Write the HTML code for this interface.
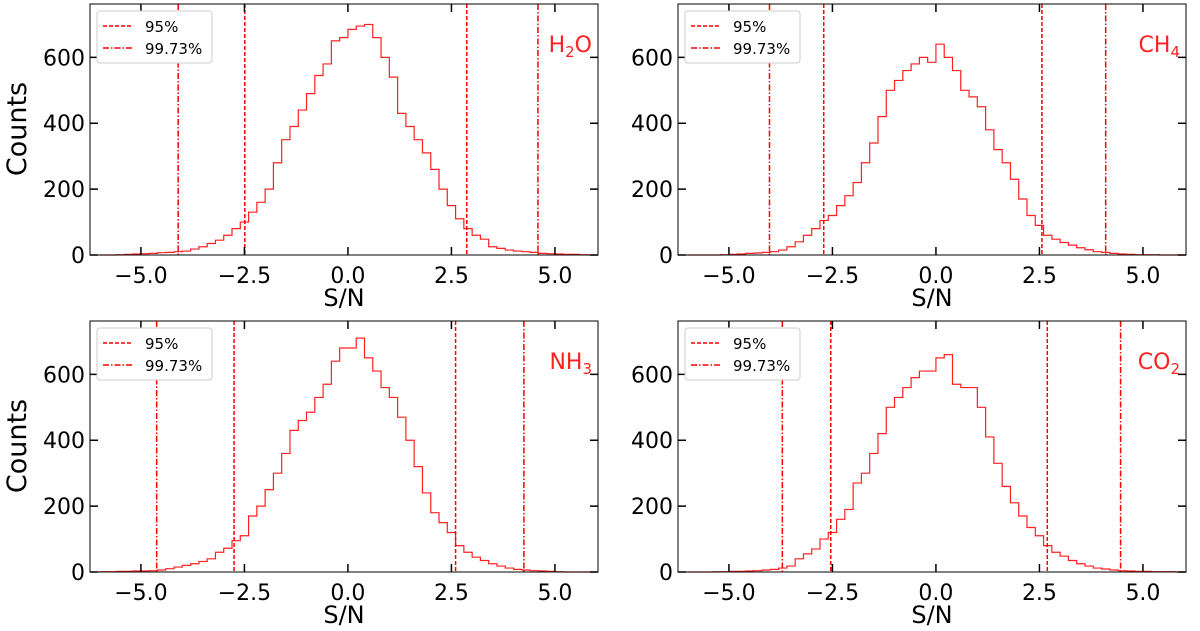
<!DOCTYPE html>
<html><head><meta charset="utf-8">
<style>
body{margin:0;background:#fff;}
svg{display:block;font-family:"DejaVu Sans","Liberation Sans",sans-serif;}
</style></head>
<body>
<svg id="chart" width="1200" height="631" xmlns="http://www.w3.org/2000/svg"></svg>
<script>
const binEdgeStart = -6.0;
const binWidth = 0.2;
const h2oCounts = [0,0,1,2,3,4,5,7,8,10, 12,18,25,35,45,60,80,100,130,160, 200,280,350,390,440,490,545,580,650,660, 685,695,700,660,600,540,430,390,350,310, 260,200,150,110,80,60,48,25,20,15, 12,10,8,5,4,3,2,2,1,0];
const ch4Counts = [0,0,0,0,1,2,3,5,6,8, 10,15,25,40,60,80,105,120,150,180, 220,280,340,420,500,530,560,580,600,585, 640,600,560,500,480,450,380,320,280,230, 170,120,90,60,48,38,30,22,16,10, 8,5,3,2,1,1,1,0,0,0];
const nh3Counts = [1,1,2,2,3,3,4,6,10,15, 20,25,32,40,60,72,95,110,170,200, 250,300,360,430,460,485,530,570,640,680, 680,710,650,610,560,530,470,400,320,240, 180,150,120,80,60,45,35,25,18,12, 8,6,4,3,2,1,0,0,0,0];
const co2Counts = [0,0,0,1,1,2,2,3,4,6, 8,12,18,40,55,70,100,120,160,190, 270,300,360,420,500,530,560,590,610,610, 650,660,570,560,560,500,410,330,260,210, 170,135,110,80,60,48,35,25,18,12, 9,6,4,3,2,2,1,1,1,0];
const h2oLines = [-2.49, 2.87, -4.1, 4.59];
const ch4Lines = [-2.71, 2.56, -4.02, 4.1];
const nh3Lines = [-2.75, 2.6, -4.62, 4.25];
const co2Lines = [-2.54, 2.69, -3.71, 4.46];
const xTicks = [-5, -2.5, 0, 2.5, 5];
const xTickLabels = ["\u22125.0","\u22122.5","0.0","2.5","5.0"];
const yTicks = [0, 200, 400, 600];
const yTickLabels = ["0","200","400","600"];
const xMin = -6.23, xMax = 6.04, yMin = 0, yMax = 762;

const NS = "http://www.w3.org/2000/svg";
const svg = document.getElementById('chart');
function mk(tag, attrs, parent){const e=document.createElementNS(NS,tag);for(const k in attrs)e.setAttribute(k,attrs[k]);(parent||svg).appendChild(e);return e;}

const panels = [
 {name:'h2o', x0:90, y0:4, counts:h2oCounts, lines:h2oLines, label:['H','2','O'], ylab:true},
 {name:'ch4', x0:678, y0:4, counts:ch4Counts, lines:ch4Lines, label:['CH','4',''], ylab:false},
 {name:'nh3', x0:90, y0:321, counts:nh3Counts, lines:nh3Lines, label:['NH','3',''], ylab:true},
 {name:'co2', x0:678, y0:321, counts:co2Counts, lines:co2Lines, label:['CO','2',''], ylab:false}
];
const W = 508, H = 251;

panels.forEach(p=>{
  const g = mk('g',{});
  
  
  const sx = v => p.x0 + (v - xMin)/(xMax - xMin)*W;
  const sy = c => p.y0 + H - (c - yMin)/(yMax - yMin)*H;
  let d = '';
  let first = true;
  p.counts.forEach((c,i)=>{
    const a = sx(binEdgeStart + i*binWidth), b = sx(binEdgeStart + (i+1)*binWidth);
    const y = sy(c);
    if(first){d += `M${Math.max(a,p.x0)},${sy(0)} L${Math.max(a,p.x0)},${y}`; first=false;}
    else d += ` L${a},${y}`;
    d += ` L${Math.min(b,p.x0+W)},${y}`;
  });
  const path = mk('path',{d:d, fill:'none', stroke:'#ff2020', 'stroke-width':1.2}, g);
  
  
  p.lines.forEach((v,i)=>{
    const dash = i<2 ? '4,2' : '6,2,1.5,2';
    const l = mk('line',{x1:sx(v),x2:sx(v),y1:p.y0,y2:p.y0+H,stroke:'#ff0000','stroke-width':1.5,'stroke-dasharray':dash}, g);
    
    
  });
  const fr = mk('rect',{x:p.x0,y:p.y0,width:W,height:H,fill:'none',stroke:'#000','stroke-width':1}, g);
  
  
  xTicks.forEach((t,i)=>{
    const x = sx(t);
    mk('line',{x1:x,x2:x,y1:p.y0+H,y2:p.y0+H-8,stroke:'#000','stroke-width':1.5}, g);
    mk('line',{x1:x,x2:x,y1:p.y0,y2:p.y0+8,stroke:'#000','stroke-width':1.5}, g);
    const tx = mk('text',{x:x,y:p.y0+H+28,'text-anchor':'middle','font-size':22,fill:'#000'}, g);
    tx.textContent = xTickLabels[i];
    
    
  });
  yTicks.forEach((t,i)=>{
    const y = sy(t);
    mk('line',{x1:p.x0,x2:p.x0+8,y1:y,y2:y,stroke:'#000','stroke-width':1.5}, g);
    mk('line',{x1:p.x0+W,x2:p.x0+W-8,y1:y,y2:y,stroke:'#000','stroke-width':1.5}, g);
    const ty = mk('text',{x:p.x0-5,y:y+8,'text-anchor':'end','font-size':22,fill:'#000'}, g);
    ty.textContent = yTickLabels[i];
    
    
  });
  const xt = mk('text',{x:p.x0+254,y:p.y0+H+51,'text-anchor':'middle','font-size':24,fill:'#000'}, g);
  xt.textContent = 'S/N';
  
  
  if(p.ylab){
    const yt = mk('text',{x:0,y:0,'text-anchor':'middle','font-size':27,fill:'#000',transform:`translate(26,${p.y0+125}) rotate(-90)`}, g);
    yt.textContent = 'Counts';
    
    
  }
  const lab = mk('text',{x:p.x0+W-6,y:p.y0+48,'text-anchor':'end','font-size':22,fill:'#ff2020'}, g);
  const t1 = mk('tspan',{},lab); t1.textContent = p.label[0];
  const t2 = mk('tspan',{dy:5,'font-size':15},lab); t2.textContent = p.label[1];
  if(p.label[2]){const t3 = mk('tspan',{dy:-5},lab); t3.textContent = p.label[2];}
  
  
  const lg = mk('g',{}, g);
  
  
  mk('rect',{x:p.x0+7,y:p.y0+7,width:115,height:52,rx:3,fill:'#fff',stroke:'#ccc','stroke-width':1}, lg);
  mk('line',{x1:p.x0+13,x2:p.x0+43,y1:p.y0+22,y2:p.y0+22,stroke:'#ff0000','stroke-width':1.5,'stroke-dasharray':'4,2'}, lg);
  mk('line',{x1:p.x0+13,x2:p.x0+43,y1:p.y0+44,y2:p.y0+44,stroke:'#ff0000','stroke-width':1.5,'stroke-dasharray':'6,2,1.5,2'}, lg);
  const e1 = mk('text',{x:p.x0+55,y:p.y0+28,'font-size':15,fill:'#000'}, lg); e1.textContent='95%';
  
  
  const e2 = mk('text',{x:p.x0+55,y:p.y0+50,'font-size':15,fill:'#000'}, lg); e2.textContent='99.73%';
  
  
});
</script>
</body></html>
